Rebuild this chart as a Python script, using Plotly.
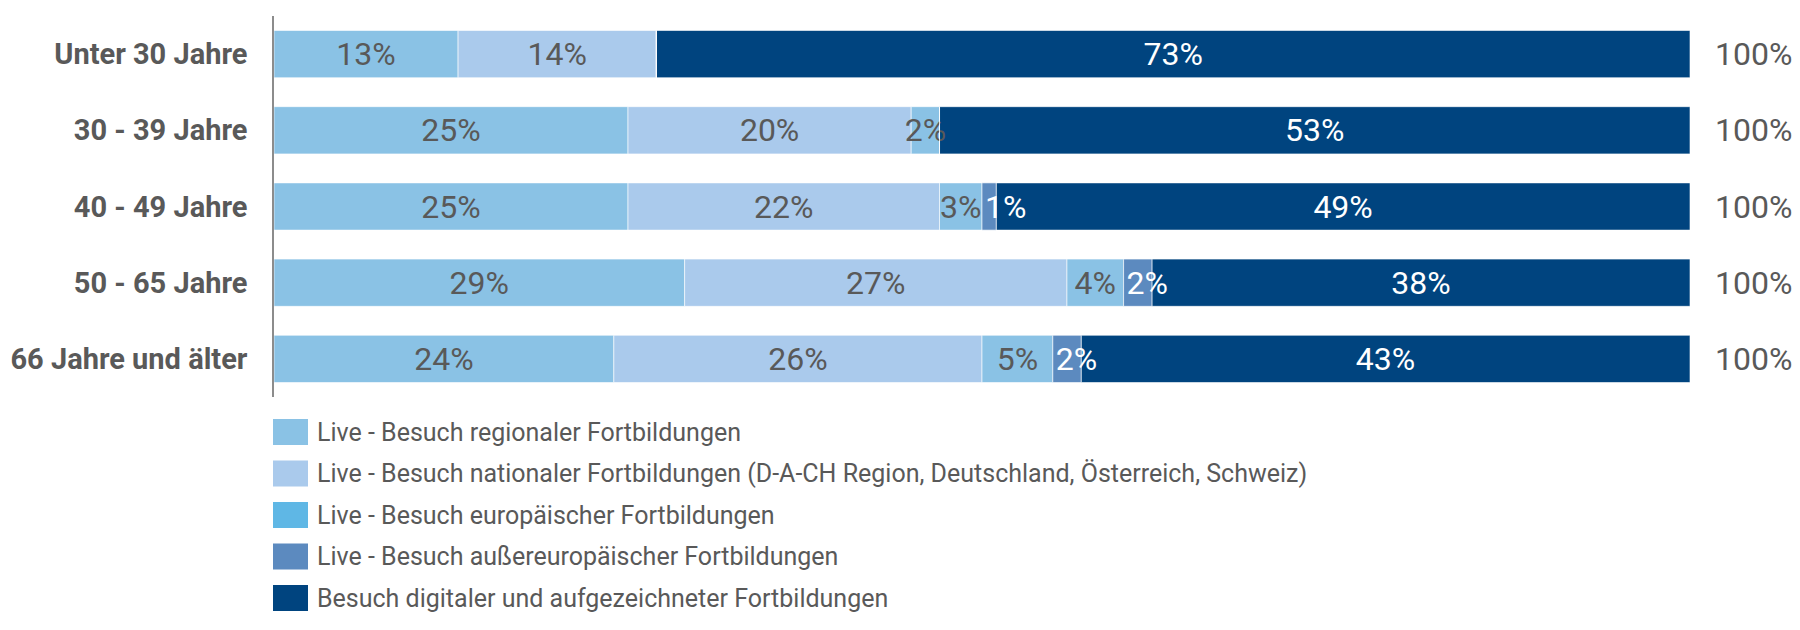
import plotly.graph_objects as go

# Altersgruppen (von oben nach unten)
altersgruppen = ["Unter 30 Jahre", "30 - 39 Jahre", "40 - 49 Jahre", "50 - 65 Jahre", "66 Jahre und älter"]

serien = [
    "Live - Besuch regionaler Fortbildungen",
    "Live - Besuch nationaler Fortbildungen (D-A-CH Region, Deutschland, Österreich, Schweiz)",
    "Live - Besuch europäischer Fortbildungen",
    "Live - Besuch außereuropäischer Fortbildungen",
    "Besuch digitaler und aufgezeichneter Fortbildungen",
]

regional = [13, 25, 25, 29, 24]
national = [14, 20, 22, 27, 26]
europaeisch = [0, 2, 3, 4, 5]
aussereuropaeisch = [0, 0, 1, 2, 2]
digital = [73, 53, 49, 38, 43]

werte = [regional, national, europaeisch, aussereuropaeisch, digital]

bar_farben = ["#8AC2E5", "#AACAEC", "#8AC2E5", "#5C8ABF", "#00447F"]
legenden_farben = ["#8AC2E5", "#AACAEC", "#5FB7E5", "#5C8ABF", "#00447F"]
text_farben = ["#595959", "#595959", "#595959", "#FFFFFF", "#FFFFFF"]
text_anker = ["middle", "middle", "middle", "start", "middle"]

# Zeichenreihenfolge: kleine Segmente zuletzt, damit ihre Beschriftung oben liegt
zeichen_reihenfolge = [4, 0, 1, 2, 3]

GRAU = "#595959"
FONT = "Roboto"


def main():
    # Startwerte der gestapelten Segmente
    basen = []
    laufend = [0] * len(altersgruppen)
    for vals in werte:
        basen.append(list(laufend))
        laufend = [a + b for a, b in zip(laufend, vals)]

    fig = go.Figure()
    for k in zeichen_reihenfolge:
        vals = werte[k]
        fig.add_trace(go.Bar(
            name=serien[k], y=altersgruppen, x=vals, base=basen[k], orientation="h",
            marker=dict(color=bar_farben[k], line=dict(color="rgba(255,255,255,0.6)", width=1)),
            text=[f"{v}%" if v > 0 else "" for v in vals],
            textposition="inside", insidetextanchor=text_anker[k], textangle=0,
            textfont=dict(family=FONT, size=32, color=text_farben[k]),
            hoverinfo="skip", showlegend=False,
        ))

    # Summen rechts neben den Balken
    summen = laufend
    for gruppe, summe in zip(altersgruppen, summen):
        fig.add_annotation(x=summe, y=gruppe, xref="x", yref="y", text=f"{summe}%",
                           showarrow=False, xanchor="left", xshift=23,
                           font=dict(family=FONT, size=32, color=GRAU))

    # Seite hat 8px Rand -> Figur etwas kleiner
    W, H = 1784, 614
    x0, x1, y_top, y_bot = 266, 1682, 8, 389

    def px_x(p):
        return (p - x0) / (x1 - x0)

    def px_y(p):
        return (y_bot - p) / (y_bot - y_top)

    # eigene Legende unter dem Diagramm
    for i, (name, farbe) in enumerate(zip(serien, legenden_farben)):
        yc = 424 + i * 41.5
        fig.add_shape(type="rect", xref="paper", yref="paper",
                      x0=px_x(265), x1=px_x(300), y0=px_y(yc - 13), y1=px_y(yc + 13),
                      fillcolor=farbe, line=dict(width=0))
        fig.add_annotation(x=px_x(307), y=px_y(yc), xref="paper", yref="paper", text=name,
                           showarrow=False, xanchor="left", yanchor="middle",
                           font=dict(family=FONT, size=25, color=GRAU))

    fig.update_layout(
        barmode="overlay",
        bargap=0.38,
        width=W, height=H,
        margin=dict(l=x0, r=W - x1, t=y_top, b=H - y_bot, pad=0),
        plot_bgcolor="white", paper_bgcolor="white",
        font=dict(family=FONT, color=GRAU),
        uniformtext=dict(mode="show", minsize=32),
        showlegend=False,
    )
    fig.update_xaxes(range=[0, 100], visible=False, fixedrange=True, automargin=False)
    fig.update_yaxes(autorange="reversed", showline=True, linecolor="#8C8C8C", linewidth=1.5,
                     showgrid=False, ticks="", ticklabelstandoff=19, automargin=False,
                     tickfont=dict(family=FONT, size=29, color=GRAU, weight="bold"))
    fig.write_html("out.html")


if __name__ == '__main__':
    main()
